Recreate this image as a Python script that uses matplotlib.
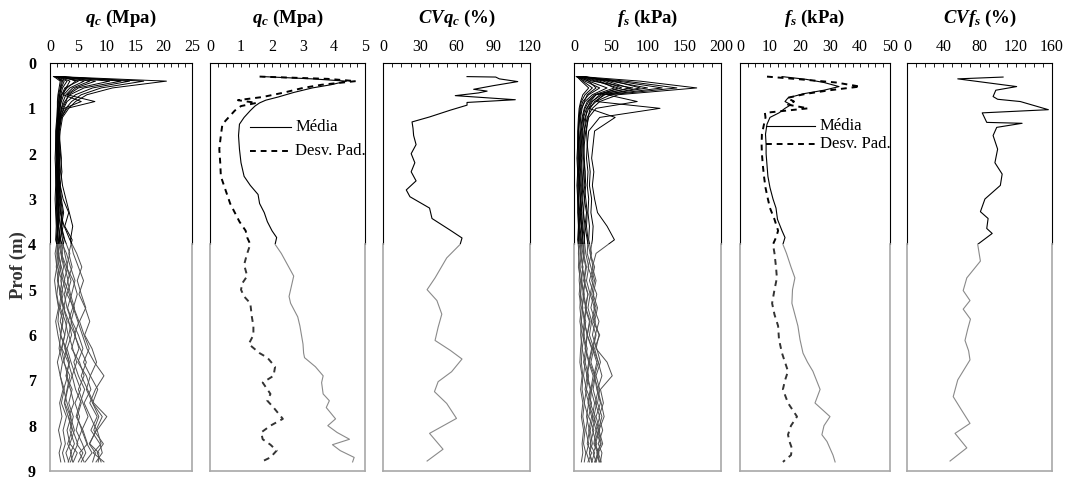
import matplotlib
matplotlib.use('Agg')
import matplotlib.pyplot as plt
from matplotlib.patches import Rectangle
from matplotlib.ticker import MultipleLocator

plt.rcParams['font.family'] = ['Liberation Serif', 'DejaVu Serif']
plt.rcParams['mathtext.fontset'] = 'custom'
plt.rcParams['mathtext.it'] = 'Liberation Serif:italic:bold'
plt.rcParams['mathtext.rm'] = 'Liberation Serif:bold'
plt.rcParams['mathtext.bf'] = 'Liberation Serif:bold'

# ---- individual soundings (shared depth grid, m) ----
depth = [0.30, 0.40, 0.55, 0.70, 0.85, 1.0, 1.2, 1.5, 1.8, 2.1, 2.4, 2.7, 3.0, 3.3, 3.6, 3.9, 4.2,
         4.5, 4.8, 5.1, 5.4, 5.7, 6.0, 6.3, 6.6, 6.9, 7.2, 7.5, 7.8, 8.1, 8.4, 8.6, 8.8]

qc_profiles = [
    [1.5, 20.5, 11.0, 6.5, 4.5, 3.3, 2.2, 1.8, 1.6, 1.5, 1.7, 1.6, 1.8, 2.0, 1.9, 2.2, 2.6, 3.1, 2.5, 3.4, 4.0, 3.2, 4.4, 5.1, 4.2, 5.0, 6.1, 5.3, 4.6, 5.8, 6.6, 5.2, 6.0],
    [0.8, 16.5, 9.0, 5.5, 3.8, 2.8, 2.0, 1.6, 1.4, 1.3, 1.5, 1.4, 1.6, 1.5, 1.8, 1.7, 1.4, 2.0, 2.6, 1.9, 2.4, 3.0, 2.6, 2.1, 3.2, 3.9, 3.1, 2.6, 3.6, 4.3, 3.5, 4.8, 4.1],
    [1.2, 14.0, 7.5, 4.5, 3.0, 2.4, 1.8, 1.5, 1.5, 1.6, 1.4, 1.7, 1.5, 1.9, 2.3, 1.8, 2.9, 3.6, 4.4, 3.8, 3.1, 3.9, 5.0, 5.8, 4.9, 6.4, 7.2, 6.0, 7.1, 8.2, 6.9, 8.0, 7.5],
    [2.0, 12.5, 6.0, 3.5, 2.6, 2.0, 1.7, 1.4, 1.3, 1.4, 1.3, 1.5, 1.4, 1.6, 1.5, 1.9, 2.2, 1.7, 2.3, 2.9, 2.4, 3.3, 3.8, 3.0, 3.7, 4.5, 5.4, 4.4, 5.2, 4.6, 5.7, 6.3, 5.5],
    [1.0, 10.5, 5.0, 3.2, 2.8, 2.2, 1.6, 1.3, 1.2, 1.3, 1.2, 1.3, 1.3, 1.4, 1.3, 1.5, 1.2, 1.6, 1.3, 2.0, 1.6, 2.3, 1.9, 2.7, 3.4, 2.8, 3.6, 4.2, 3.3, 4.0, 4.9, 4.2, 3.6],
    [1.8, 8.0, 4.5, 3.0, 7.9, 3.0, 2.0, 1.6, 1.7, 1.9, 2.1, 1.8, 2.0, 2.4, 2.0, 2.6, 3.5, 2.9, 4.1, 4.8, 4.1, 4.9, 5.7, 6.5, 7.8, 9.5, 8.0, 7.0, 8.3, 7.2, 8.8, 9.2, 8.1],
    [0.6, 6.0, 3.5, 2.4, 2.0, 1.7, 1.5, 1.3, 1.2, 1.1, 1.3, 1.2, 1.2, 1.3, 1.4, 1.2, 1.5, 1.9, 1.4, 1.8, 2.3, 1.8, 2.6, 2.0, 2.5, 3.1, 2.4, 3.0, 3.7, 3.0, 3.5, 2.8, 3.3],
    [1.5, 3.5, 2.8, 2.3, 5.5, 2.5, 1.9, 1.5, 1.5, 1.4, 1.6, 1.5, 1.7, 1.8, 2.5, 3.5, 4.7, 5.6, 4.8, 5.5, 6.3, 5.2, 6.0, 6.9, 5.9, 7.1, 8.4, 7.5, 9.2, 8.1, 7.0, 8.6, 8.5],
    [2.5, 4.5, 3.0, 2.0, 1.8, 1.6, 1.4, 1.2, 1.3, 1.2, 1.4, 1.3, 1.4, 1.6, 1.5, 1.7, 2.0, 2.6, 3.2, 2.5, 3.0, 3.8, 3.3, 4.0, 4.7, 3.9, 4.5, 5.5, 4.8, 5.6, 4.7, 5.8, 5.0],
    [0.9, 2.5, 2.0, 1.7, 1.6, 1.5, 1.4, 1.2, 1.1, 1.2, 1.1, 1.2, 1.1, 1.2, 1.3, 1.1, 1.3, 1.1, 1.5, 1.2, 1.6, 1.4, 1.9, 1.6, 2.2, 1.8, 2.5, 2.0, 2.9, 2.3, 2.7, 2.2, 2.6],
    [1.3, 3.0, 2.2, 1.9, 1.7, 1.6, 1.5, 1.4, 1.6, 1.7, 1.5, 1.8, 2.3, 3.3, 2.6, 3.9, 3.3, 3.9, 3.1, 3.6, 4.3, 3.7, 4.5, 3.8, 5.2, 6.0, 5.0, 5.8, 6.7, 5.6, 6.5, 7.4, 6.2],
    [1.1, 2.0, 1.8, 1.5, 1.4, 1.3, 1.3, 1.1, 1.0, 1.1, 1.0, 1.1, 1.2, 1.1, 1.2, 1.4, 1.9, 2.4, 1.9, 2.3, 1.8, 2.7, 3.2, 2.6, 3.4, 2.9, 3.9, 3.3, 4.1, 3.5, 4.3, 3.6, 4.0],
    [1.6, 5.0, 2.6, 2.1, 1.9, 1.8, 1.6, 1.4, 1.5, 1.6, 1.8, 1.6, 1.9, 2.2, 1.9, 2.5, 2.0, 2.9, 3.7, 3.0, 4.2, 5.1, 4.3, 5.3, 6.4, 5.5, 6.6, 7.7, 10.0, 8.3, 9.0, 7.6, 9.5],
    [1.4, 2.2, 1.9, 1.7, 1.5, 1.4, 1.3, 1.2, 1.2, 1.3, 1.2, 1.4, 1.3, 1.5, 1.4, 1.3, 0.9, 1.2, 0.8, 1.1, 1.5, 1.0, 1.4, 1.9, 1.3, 1.8, 2.3, 1.7, 2.1, 1.5, 2.0, 1.6, 1.9],
    [1.9, 7.0, 4.0, 2.8, 2.3, 2.0, 1.8, 1.6, 1.8, 2.0, 1.9, 2.2, 2.8, 3.4, 4.0, 3.6, 4.1, 5.0, 5.9, 5.1, 6.2, 7.0, 6.1, 7.4, 8.2, 7.1, 6.4, 7.5, 8.6, 7.7, 9.4, 8.3, 9.0],
    [0.7, 1.8, 1.6, 1.4, 1.3, 1.3, 1.2, 1.0, 1.0, 0.9, 1.0, 1.0, 0.9, 1.0, 1.1, 1.0, 1.6, 1.3, 2.1, 1.7, 2.6, 2.2, 1.8, 2.9, 2.4, 3.5, 3.0, 2.5, 3.2, 3.9, 3.1, 3.8, 3.2],
]

fs_profiles = [
    [10, 90, 167, 60, 35, 25, 18, 14, 12, 12, 13, 12, 14, 13, 15, 14, 16, 20, 17, 22, 19, 24, 21, 27, 23, 29, 26, 31, 27, 33, 28, 34, 30],
    [5, 70, 140, 50, 30, 20, 15, 11, 10, 9, 10, 9, 11, 10, 12, 11, 13, 11, 15, 12, 16, 14, 18, 15, 20, 17, 22, 19, 24, 20, 23, 21, 25],
    [8, 60, 120, 45, 86, 30, 20, 16, 14, 13, 15, 16, 14, 17, 15, 18, 22, 26, 21, 27, 23, 29, 25, 31, 36, 30, 35, 32, 38, 33, 37, 31, 35],
    [12, 50, 100, 40, 30, 117, 35, 20, 18, 17, 19, 18, 20, 19, 21, 20, 24, 19, 26, 22, 28, 24, 30, 26, 33, 28, 31, 36, 30, 35, 29, 33, 28],
    [6, 30, 60, 35, 25, 20, 56, 28, 26, 24, 27, 25, 28, 32, 45, 55, 30, 25, 30, 26, 32, 28, 34, 30, 45, 52, 36, 40, 34, 39, 33, 38, 36],
    [4, 20, 45, 25, 15, 10, 8, 6, 5, 6, 5, 6, 5, 7, 6, 7, 6, 8, 7, 9, 8, 10, 9, 11, 10, 12, 11, 14, 12, 15, 13, 16, 14],
    [7, 25, 80, 30, 20, 15, 12, 10, 9, 8, 9, 10, 9, 11, 10, 12, 14, 11, 15, 13, 17, 14, 18, 16, 21, 18, 23, 20, 26, 22, 25, 21, 24],
    [3, 15, 35, 20, 12, 9, 7, 6, 6, 5, 6, 5, 6, 6, 7, 6, 9, 12, 10, 14, 11, 16, 13, 18, 15, 20, 17, 24, 20, 27, 22, 28, 24],
    [15, 40, 65, 30, 22, 18, 16, 14, 13, 14, 15, 14, 16, 18, 17, 19, 18, 23, 28, 24, 30, 26, 35, 28, 33, 38, 32, 37, 41, 34, 39, 33, 37],
    [9, 35, 55, 28, 18, 14, 11, 9, 8, 8, 7, 8, 8, 9, 8, 10, 9, 12, 10, 13, 11, 14, 12, 16, 13, 18, 15, 20, 17, 21, 18, 24, 19],
    [5, 20, 30, 18, 14, 11, 9, 8, 7, 7, 8, 7, 9, 8, 10, 9, 12, 16, 13, 19, 15, 21, 18, 25, 21, 28, 24, 22, 29, 25, 31, 26, 30],
    [11, 45, 75, 38, 24, 17, 13, 12, 11, 10, 11, 12, 11, 13, 12, 14, 13, 17, 14, 19, 16, 22, 18, 24, 20, 26, 23, 28, 25, 30, 27, 32, 29],
    [6, 12, 25, 15, 10, 8, 7, 6, 6, 7, 6, 7, 6, 8, 7, 8, 10, 8, 11, 9, 12, 10, 14, 11, 15, 13, 17, 14, 19, 16, 20, 17, 21],
    [14, 55, 90, 42, 28, 22, 19, 17, 18, 20, 22, 21, 24, 23, 26, 25, 22, 28, 24, 31, 27, 34, 29, 25, 31, 27, 33, 29, 35, 30, 36, 32, 34],
    [4, 10, 20, 12, 9, 7, 6, 5, 5, 4, 5, 4, 5, 5, 6, 5, 7, 6, 9, 7, 10, 8, 11, 9, 8, 11, 9, 12, 10, 13, 11, 12, 10],
]

# ---- qc mean / standard deviation ----
qc_stat_depth = [0.30, 0.35, 0.40, 0.48, 0.55, 0.65, 0.75, 0.82, 0.88, 0.95, 1.05, 1.2, 1.35, 1.6, 1.9, 2.2,
                 2.5, 2.7, 2.9, 3.1, 3.3, 3.5, 3.7, 3.85, 4.0, 4.2, 4.45, 4.7, 4.85, 5.0, 5.15, 5.3, 5.6,
                 5.8, 6.0, 6.2, 6.4, 6.5, 6.7, 6.9, 7.05, 7.3, 7.45, 7.6, 7.85, 8.0, 8.15, 8.3, 8.42, 8.55, 8.7, 8.8]
qc_mean = [1.7, 3.3, 4.4, 3.9, 3.3, 2.7, 2.2, 1.8, 1.6, 1.45, 1.3, 1.1, 0.95, 0.92, 0.95, 1.0,
           1.1, 1.3, 1.55, 1.6, 1.75, 1.85, 2.0, 2.15, 2.1, 2.3, 2.5, 2.7, 2.65, 2.6, 2.55, 2.6, 2.83,
           2.9, 2.95, 3.0, 3.02, 3.05, 3.4, 3.65, 3.6, 3.65, 3.85, 3.75, 4.05, 3.8, 4.1, 4.5, 3.95, 4.2, 4.65, 4.6]
qc_sd = [1.6, 3.8, 4.7, 3.6, 3.0, 2.4, 1.7, 0.9, 1.5, 1.0, 0.8, 0.6, 0.4, 0.35, 0.3, 0.33,
         0.35, 0.45, 0.55, 0.65, 0.8, 0.95, 1.15, 1.2, 1.3, 1.2, 1.1, 1.2, 1.05, 1.0, 1.1, 1.3, 1.35,
         1.4, 1.4, 1.25, 1.6, 1.85, 2.1, 2.05, 1.7, 1.95, 1.85, 2.05, 2.35, 1.95, 1.65, 1.7, 1.95, 2.15, 1.95, 1.65]

cvqc_depth = [0.30, 0.31, 0.35, 0.41, 0.50, 0.58, 0.62, 0.66, 0.72, 0.81, 0.87, 0.93, 1.04, 1.19, 1.3, 1.44,
              1.6, 1.8, 2.0, 2.2, 2.4, 2.6, 2.8, 2.95, 3.2, 3.43, 3.69, 3.86, 4.0, 4.3, 4.74, 5.0, 5.24,
              5.54, 5.83, 6.12, 6.34, 6.53, 6.81, 7.03, 7.25, 7.51, 7.84, 8.17, 8.52, 8.78]
cvqc = [68.6, 92, 95, 110, 90, 74, 85, 78, 59, 108, 68.6, 68.6, 55, 38, 23.7, 24.5,
        25, 27, 23, 26, 23, 27, 19, 22, 38, 40, 55, 64.5, 63, 52, 42.5, 36, 44,
        48, 45, 42.5, 55, 64.5, 56, 45, 42, 52, 60, 38, 49, 36]

# ---- fs mean / standard deviation ----
fs_stat_depth = [0.30, 0.36, 0.43, 0.52, 0.6, 0.68, 0.77, 0.85, 0.92, 1.0, 1.1, 1.2, 1.35, 1.57, 1.8, 2.0,
                 2.25, 2.5, 2.75, 3.0, 3.2, 3.45, 3.7, 3.85, 4.0, 4.2, 4.5, 4.74, 5.0, 5.3, 5.55, 5.8,
                 6.1, 6.4, 6.6, 6.8, 7.0, 7.2, 7.5, 7.8, 8.0, 8.2, 8.35, 8.5, 8.65, 8.8]
fs_mean = [14, 22, 28, 33, 28, 21, 16, 15, 17, 15, 13, 10, 9, 8.5, 8.7, 8.7,
           9.0, 9.3, 10, 11, 12, 12.5, 14, 15, 14.3, 15.5, 17, 18.3, 17.5, 17.3, 18.3, 19.3,
           20, 21, 22.5, 24.3, 25.5, 26.7, 25, 30, 28, 27.3, 29, 30, 31, 31.7]
fs_sd = [9, 20, 32, 40, 30, 22, 15.7, 18, 16, 22.7, 8.3, 8.5, 8, 7.3, 7.2, 7.3,
         7.6, 8, 8.5, 9.3, 10, 11.5, 12.7, 12, 11, 11.5, 12, 12.3, 11.5, 10.7, 11.5, 12.7,
         13, 14, 15, 16, 15, 14.3, 16, 19, 17, 16, 16.5, 17.3, 17, 14.3]

cvfs_depth = [0.31, 0.35, 0.52, 0.6, 0.74, 0.8, 0.85, 1.03, 1.1, 1.31, 1.33, 1.42, 1.6, 1.9, 2.2, 2.45,
              2.7, 3.0, 3.28, 3.43, 3.65, 3.76, 4.0, 4.37, 4.74, 5.02, 5.24, 5.43, 5.65, 5.87, 6.12,
              6.35, 6.55, 6.99, 7.36, 7.65, 7.95, 8.17, 8.49, 8.78]
cvfs = [106, 56, 121, 98, 95, 100, 125, 156, 83, 88, 127, 99, 95, 100, 97, 105,
        103, 86, 81, 89.5, 88, 94, 78, 81, 66, 62, 69.5, 62, 70, 67, 64,
        68, 69.5, 56, 51, 60, 69.5, 53, 66, 47.5]

titles = [r'$q_c$ (Mpa)', r'$q_c$ (Mpa)', r'$CVq_c$ (%)', r'$f_s$ (kPa)', r'$f_s$ (kPa)', r'$CVf_s$ (%)']
xmax = [25, 5, 120, 200, 50, 160]
xmajor = [5, 1, 30, 50, 10, 40]

W, H = 1070, 482
panel_px = [(50, 192), (210, 365), (383, 530), (574, 721), (740, 890), (907, 1052)]
top_px, bot_px = 63, 471
SPLIT = 4.0  # lower part of the scan is greyed out

fig = plt.figure(figsize=(W / 100, H / 100), dpi=100)
axes = []
for i, (x0, x1) in enumerate(panel_px):
    ax = fig.add_axes([x0 / W, (H - bot_px) / H, (x1 - x0) / W, (bot_px - top_px) / H])
    ax.set_xlim(0, xmax[i])
    ax.set_ylim(9, 0)
    ax.xaxis.tick_top()
    ax.xaxis.set_major_locator(MultipleLocator(xmajor[i]))
    ax.xaxis.set_minor_locator(MultipleLocator(xmajor[i] / 4))
    ax.tick_params(axis='x', which='both', direction='in', length=3, width=0.6, top=True,
                   bottom=False, labeltop=True, labelbottom=False, pad=6, labelsize=11.5)
    if i == 0:
        ax.set_yticks(range(10))
        ax.tick_params(axis='y', length=0, pad=10, labelsize=11.5)
        for lab in ax.get_yticklabels():
            lab.set_fontweight('bold')
    else:
        ax.set_yticks([])
    for s in ['left', 'right', 'bottom']:
        ax.spines[s].set_visible(False)
    ax.spines['top'].set_linewidth(0.8)
    f = 1 - SPLIT / 9
    for xx in (0, 1):
        ax.plot([xx, xx], [f, 1], transform=ax.transAxes, clip_on=False, color='black', lw=0.8)
        ax.plot([xx, xx], [0, f], transform=ax.transAxes, clip_on=False, color='#a8a8a8', lw=1.2)
    ax.plot([0, 1], [0, 0], transform=ax.transAxes, clip_on=False, color='#a8a8a8', lw=1.2)
    fig.text((x0 + x1) / 2 / W, 1 - 18 / H, titles[i], ha='center', va='center',
             fontsize=13.5, fontweight='bold')
    axes.append(ax)


def split_plot(ax, x, y, c_top, c_low, **kw):
    for c, (y0, y1) in ((c_top, (0, SPLIT)), (c_low, (SPLIT, 9.5))):
        ln, = ax.plot(x, y, color=c, **kw)
        ln.set_clip_path(Rectangle((-1000, y0), 3000, y1 - y0, transform=ax.transData))


for prof in qc_profiles:
    split_plot(axes[0], prof, depth, 'black', '#505050', lw=0.7)
for prof in fs_profiles:
    split_plot(axes[3], prof, depth, 'black', '#505050', lw=0.7)

split_plot(axes[1], qc_mean, qc_stat_depth, 'black', '#8a8a8a', lw=0.8)
split_plot(axes[1], qc_sd, qc_stat_depth, 'black', '#333333', lw=1.4, ls=(0, (3, 2.5)))
split_plot(axes[2], cvqc, cvqc_depth, 'black', '#8a8a8a', lw=0.8)
split_plot(axes[4], fs_mean, fs_stat_depth, 'black', '#8a8a8a', lw=0.8)
split_plot(axes[4], fs_sd, fs_stat_depth, 'black', '#333333', lw=1.4, ls=(0, (3, 2.5)))
split_plot(axes[5], cvfs, cvfs_depth, 'black', '#8a8a8a', lw=0.8)

# legends drawn by hand (no frame)
for ax, (lx0, lx1, tx), (r1, r2) in ((axes[1], (0.26, 0.52, 0.55), (1.42, 1.94)),
                                      (axes[4], (0.17, 0.50, 0.53), (1.40, 1.79))):
    tr = ax.get_yaxis_transform()
    ax.plot([lx0, lx1], [r1, r1], transform=tr, color='black', lw=0.8)
    ax.plot([lx0, lx1], [r2, r2], transform=tr, color='black', lw=1.4, ls=(0, (3, 2.5)))
    ax.text(tx, r1, 'Média', transform=tr, va='center', fontsize=12)
    ax.text(tx, r2, 'Desv. Pad.', transform=tr, va='center', fontsize=12)

fig.text(18 / W, 1 - 265 / H, 'Prof (m)', rotation=90, ha='center', va='center',
         fontsize=13.5, fontweight='bold', color='#333333')

fig.savefig('out.png', dpi=100)
